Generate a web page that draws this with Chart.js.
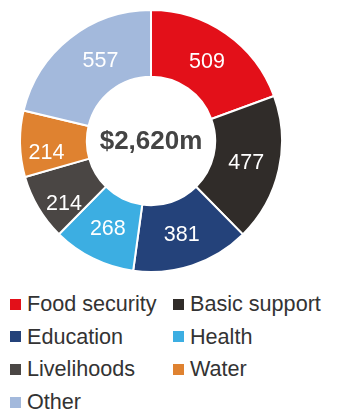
<!DOCTYPE html>
<html>
<head>
<meta charset="utf-8">
<script src="https://cdn.jsdelivr.net/npm/chart.js@4/dist/chart.umd.min.js"></script>
<style>
  html, body { margin: 0; padding: 0; background: #fff; }
  body { width: 340px; height: 412px; position: relative; overflow: hidden; font-family: "Liberation Sans", Arial, sans-serif; }
  #wrap { position: absolute; left: 19px; top: 9px; width: 264px; height: 264px; }
  #legend { position: absolute; left: 10px; top: 291px; width: 330px; }
  .item { position: absolute; display: flex; align-items: center; height: 26px; font-size: 21.6px; color: #333; white-space: nowrap; }
  .sw { width: 11px; height: 11px; margin-right: 6px; flex: none; }
</style>
</head>
<body>
<div id="wrap"><canvas id="c"></canvas></div>
<div id="legend"></div>
<script>
const categories = ["Food security", "Basic support", "Education", "Health", "Livelihoods", "Water", "Other"];
const values = [509, 477, 381, 268, 214, 214, 557];
const colors = ["#e31019", "#302c29", "#24427a", "#3caee2", "#4a4644", "#df8230", "#a3b9dc"];
const totalLabel = "$2,620m";

// Small pixel nudges for value labels on the narrow left-hand segments
const labelNudge = [[0, 0], [0, 0], [0, 0], [0, 0], [-3, 12], [-7, 9], [10, -4]];

// Value labels in the middle of each ring segment, total in the hole
const labelPlugin = {
  id: "ringLabels",
  afterDatasetsDraw(chart) {
    const ctx = chart.ctx;
    const meta = chart.getDatasetMeta(0);
    ctx.save();
    ctx.textAlign = "center";
    ctx.textBaseline = "middle";
    ctx.fillStyle = "#ffffff";
    ctx.font = '21.5px "Liberation Sans", Arial, sans-serif';
    meta.data.forEach((arc, i) => {
      const p = arc.tooltipPosition();
      const n = labelNudge[i];
      ctx.fillText(String(chart.data.datasets[0].data[i]), p.x + n[0], p.y + n[1] + 1);
    });
    const a = meta.data[0];
    ctx.fillStyle = "#444444";
    ctx.font = 'bold 26px "Liberation Sans", Arial, sans-serif';
    ctx.fillText(totalLabel, a.x, a.y + 1);
    ctx.restore();
  }
};

new Chart(document.getElementById("c"), {
  type: "doughnut",
  data: {
    labels: categories,
    datasets: [{
      data: values,
      backgroundColor: colors,
      borderColor: "#ffffff",
      borderWidth: 2
    }]
  },
  options: {
    responsive: true,
    maintainAspectRatio: false,
    animation: false,
    cutout: "49%",
    layout: { padding: 0 },
    plugins: { legend: { display: false }, tooltip: { enabled: false } }
  },
  plugins: [labelPlugin]
});

// Two-column legend
const legend = document.getElementById("legend");
categories.forEach((name, i) => {
  const el = document.createElement("div");
  el.className = "item";
  el.style.left = (i % 2 === 0 ? 0 : 163) + "px";
  el.style.top = (Math.floor(i / 2) * 32.7) + "px";
  const sw = document.createElement("span");
  sw.className = "sw";
  sw.style.background = colors[i];
  el.appendChild(sw);
  el.appendChild(document.createTextNode(name));
  legend.appendChild(el);
});
</script>
</body>
</html>
